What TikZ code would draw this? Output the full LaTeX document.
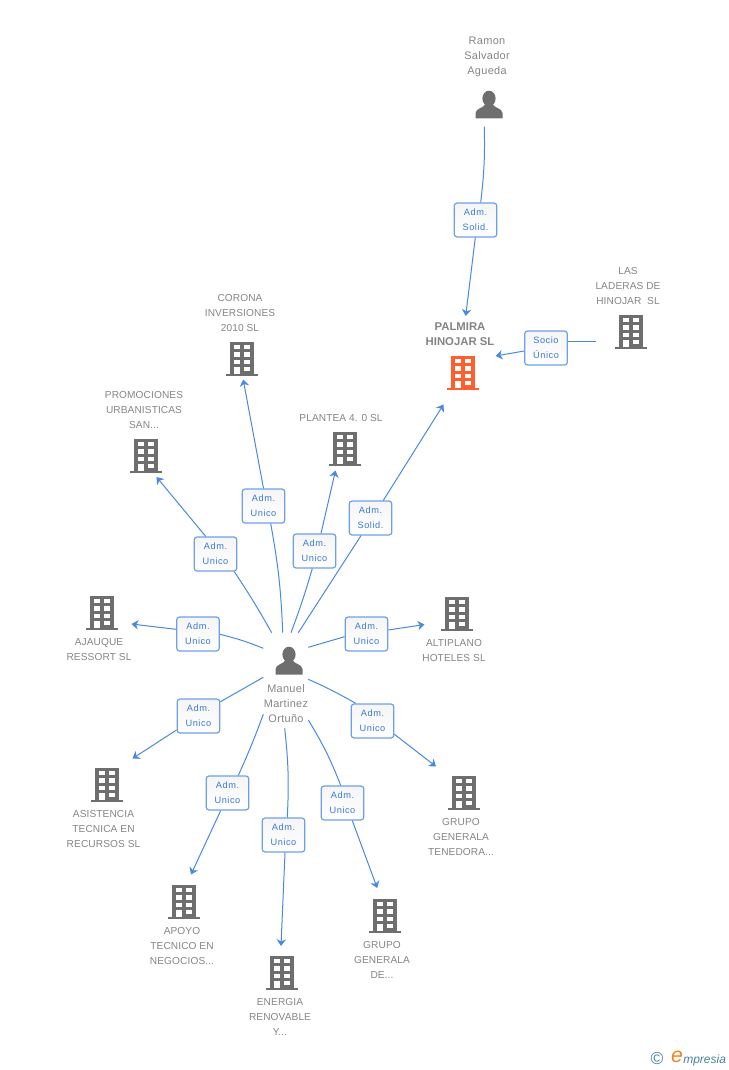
\documentclass[tikz,border=0pt]{standalone}
\usepackage{fontspec}
\setmainfont{Liberation Sans}
\newfontfamily\lblfont[LetterSpace=6]{Liberation Sans}
\newfontfamily\namefont[LetterSpace=1]{Liberation Sans}
\newfontfamily\personfont[LetterSpace=3]{Liberation Sans}
\usetikzlibrary{arrows.meta}
\definecolor{edgeblue}{HTML}{4A88E4}
\definecolor{boxblue}{HTML}{6EA0E8}
\definecolor{labelblue}{HTML}{3A78DC}
\definecolor{namegray}{HTML}{858585}
\definecolor{icongray}{HTML}{6E6E6E}
\definecolor{iconorange}{HTML}{FF5F2E}
\definecolor{logoblue}{HTML}{4A82A0}
\definecolor{logoorange}{HTML}{F58220}
\tikzset{
  x=0.75pt,y=-0.75pt,
  rel/.style={draw=boxblue,line width=0.9pt,rounded corners=2.2pt,top color=white!96!black,bottom color=white,
    minimum width=32pt,minimum height=25.5pt,inner sep=0pt,align=center,text=labelblue,
    font=\lblfont\fontsize{6.9}{11.25}\selectfont},
  name label/.style={align=center,text=namegray,inner sep=0pt,font=\namefont\fontsize{7.6}{11.25}\selectfont},
  person label/.style={name label,font=\personfont\fontsize{8.2}{11.25}\selectfont},
  main label/.style={name label,font=\bfseries\fontsize{8.5}{11.25}\selectfont},
  link/.style={draw=edgeblue,line width=0.75pt},
  linkarrow/.style={link,-{Stealth[length=5pt,width=7pt,inset=1.5pt]}},
  pics/building/.style={code={
    \fill[#1] (-16,15.5) rectangle (16,17.5);
    \fill[#1] (-12,-16.5) rectangle (12,16);
    \foreach \r in {0,1,2}{
      \fill[white] (-7.7,{-13+\r*7.3}) rectangle (-2.4,{-8.8+\r*7.3});
      \fill[white] (2.3,{-13+\r*7.3}) rectangle (7.6,{-8.8+\r*7.3});
    }
    \fill[white] (2.3,9) rectangle (7.6,13.2);
    \fill[white] (-7.7,9) rectangle (-2.4,16);
  }},
  pics/person/.style={code={
    \fill[#1] (0,-6.5) ellipse (6.6 and 7.8);
    \fill[#1] (-13.5,13.5) -- (-13.5,8) .. controls (-13,3) and (-5,3) .. (-3.5,-1) -- (3.5,-1)
       .. controls (5,3) and (13,3) .. (13.5,8) -- (13.5,13.5) -- cycle;
  }},
}
\begin{document}
\begin{tikzpicture}
\useasboundingbox (0,0) rectangle (728,1070);

% icons
\pic at (489,105) {person=icongray};
\pic at (289,661) {person=icongray};
\pic at (463,372) {building=iconorange};
\pic at (631,331) {building=icongray};
\pic at (242,358) {building=icongray};
\pic at (146,455) {building=icongray};
\pic at (345,448) {building=icongray};
\pic at (102,612) {building=icongray};
\pic at (457,613) {building=icongray};
\pic at (107,784) {building=icongray};
\pic at (464,792) {building=icongray};
\pic at (184,901) {building=icongray};
\pic at (385,915) {building=icongray};
\pic at (282,972) {building=icongray};

% names
\node[person label] (nRamon) at (487,57) {Ramon\\Salvador\\Agueda};
\node[main label] (nPalmira) at (460,334) {PALMIRA\\HINOJAR SL};
\node[name label] (nLaderas) at (628,286) {LAS\\LADERAS DE\\HINOJAR\ \ SL};
\node[name label] (nCorona) at (240,313) {CORONA\\INVERSIONES\\2010 SL};
\node[name label] (nPromo) at (144,410) {PROMOCIONES\\URBANISTICAS\\SAN...};
\node[name label] (nPlantea) at (341,418) {PLANTEA 4. 0 SL};
\node[name label] (nAjauque) at (99,649.5) {AJAUQUE\\RESSORT SL};
\node[name label] (nAltiplano) at (454,650.5) {ALTIPLANO\\HOTELES SL};
\node[person label] (nManuel) at (286,704) {Manuel\\Martinez\\Ortuño};
\node[name label] (nAsistencia) at (103.5,829) {ASISTENCIA\\TECNICA EN\\RECURSOS SL};
\node[name label] (nTenedora) at (461,837) {GRUPO\\GENERALA\\TENEDORA...};
\node[name label] (nApoyo) at (182,946) {APOYO\\TECNICO EN\\NEGOCIOS...};
\node[name label] (nGeneralaDe) at (382,960) {GRUPO\\GENERALA\\DE...};
\node[name label] (nEnergia) at (280,1017) {ENERGIA\\RENOVABLE\\Y...};

% connector ends
\coordinate (sRamon) at (484.3,126.7);
\coordinate (tRamon) at (465.7,316);
\coordinate (sLaderas) at (596,341);
\coordinate (tLaderas) at (495.7,356);
\coordinate (sSolid) at (298.3,632.7);
\coordinate (tSolid) at (443.5,404.5);
\coordinate (sPlantea) at (291,632.7);
\coordinate (tPlantea) at (335.5,470.5);
\coordinate (sCorona) at (282.7,632.7);
\coordinate (tCorona) at (243.2,379.5);
\coordinate (sPromo) at (271.7,632.7);
\coordinate (tPromo) at (156.5,477);
\coordinate (sAjauque) at (263.3,648.3);
\coordinate (tAjauque) at (131.5,624);
\coordinate (sAltiplano) at (308.3,647.3);
\coordinate (tAltiplano) at (424.5,624.5);
\coordinate (sTenedora) at (308.3,679.3);
\coordinate (tTenedora) at (436,766.5);
\coordinate (sGeneralaDe) at (308.3,720);
\coordinate (tGeneralaDe) at (377.2,888);
\coordinate (sEnergia) at (284.7,728.3);
\coordinate (tEnergia) at (281,946);
\coordinate (sApoyo) at (263.3,714.3);
\coordinate (tApoyo) at (191,874.5);
\coordinate (sAsistencia) at (263.3,677.3);
\coordinate (tAsistencia) at (132.5,758.5);

% relation boxes
\node[rel] (bRamon) at (475.5,220) {Adm.\\Solid.};
\node[rel] (bLaderas) at (546,348) {Socio\\Único};
\node[rel] (bSolid) at (370.5,518) {Adm.\\Solid.};
\node[rel] (bPlantea) at (314.5,551) {Adm.\\Unico};
\node[rel] (bCorona) at (263.5,506) {Adm.\\Unico};
\node[rel] (bPromo) at (215.5,554) {Adm.\\Unico};
\node[rel] (bAjauque) at (198,634) {Adm.\\Unico};
\node[rel] (bAltiplano) at (366.5,634) {Adm.\\Unico};
\node[rel] (bTenedora) at (372.5,721) {Adm.\\Unico};
\node[rel] (bGeneralaDe) at (342.5,803) {Adm.\\Unico};
\node[rel] (bEnergia) at (283.5,835) {Adm.\\Unico};
\node[rel] (bApoyo) at (227.5,793) {Adm.\\Unico};
\node[rel] (bAsistencia) at (198.5,716) {Adm.\\Unico};

% connectors, ending on the box borders
\draw[link] (sRamon) to[bend left=4] ([shift={(5.2,0)}]bRamon.north);
\draw[linkarrow] ([shift={(-0.2,0)}]bRamon.south) -- (tRamon);
\draw[link] (sLaderas) -- ([shift={(0,-7)}]bLaderas.east);
\draw[linkarrow] ([shift={(0,3)}]bLaderas.west) -- (tLaderas);
\draw[link] (sSolid) -- ([shift={(-9.5,0)}]bSolid.south);
\draw[linkarrow] ([shift={(12.8,0)}]bSolid.north) -- (tSolid);
\draw[link] (sPlantea) to[bend right=2] ([shift={(-2.2,0)}]bPlantea.south);
\draw[linkarrow] ([shift={(6.5,0)}]bPlantea.north) -- (tPlantea);
\draw[link] (sCorona) to[bend right=4] ([shift={(7.2,0)}]bCorona.south);
\draw[linkarrow] (bCorona.north) -- (tCorona);
\draw[link] (sPromo) to[bend right=2] ([shift={(18.8,0)}]bPromo.south);
\draw[linkarrow] ([shift={(-9.8,0)}]bPromo.north) -- (tPromo);
\draw[link] (sAjauque) to[bend right=4] ([shift={(0,0.3)}]bAjauque.east);
\draw[linkarrow] ([shift={(0,-4.7)}]bAjauque.west) -- (tAjauque);
\draw[link] (sAltiplano) -- ([shift={(0,2.7)}]bAltiplano.west);
\draw[linkarrow] ([shift={(0,-4)}]bAltiplano.east) -- (tAltiplano);
\draw[link] (sTenedora) to[bend left=3] ([shift={(-16.8,0)}]bTenedora.north);
\draw[linkarrow] ([shift={(0,13.3)}]bTenedora.east) -- (tTenedora);
\draw[link] (sGeneralaDe) to[bend left=5] ([shift={(-1.8,0)}]bGeneralaDe.north);
\draw[linkarrow] ([shift={(9.8,0)}]bGeneralaDe.south) -- (tGeneralaDe);
\draw[link] (sEnergia) to[bend left=4.5] ([shift={(3.8,0)}]bEnergia.north);
\draw[linkarrow] ([shift={(1.5,0)}]bEnergia.south) -- (tEnergia);
\draw[link] (sApoyo) to[bend left=2] ([shift={(10.8,0)}]bApoyo.north);
\draw[linkarrow] ([shift={(-6.8,0)}]bApoyo.south) -- (tApoyo);
\draw[link] (sAsistencia) -- ([shift={(0,-14.3)}]bAsistencia.east);
\draw[linkarrow] ([shift={(0,14)}]bAsistencia.west) -- (tAsistencia);

% logo
\node[inner sep=0pt,text=logoblue,font=\fontsize{13}{13}\selectfont] (logoC) at (657,1059) {©};
\node[inner sep=0pt,text=logoorange,font=\itshape\fontsize{16}{16}\selectfont] (logoE) at (677,1057) {e};
\node[inner sep=0pt,anchor=west,text=logoblue,font=\itshape\fontsize{9}{10}\selectfont] (logoT) at (683,1060) {mpresia};
\end{tikzpicture}
\end{document}
